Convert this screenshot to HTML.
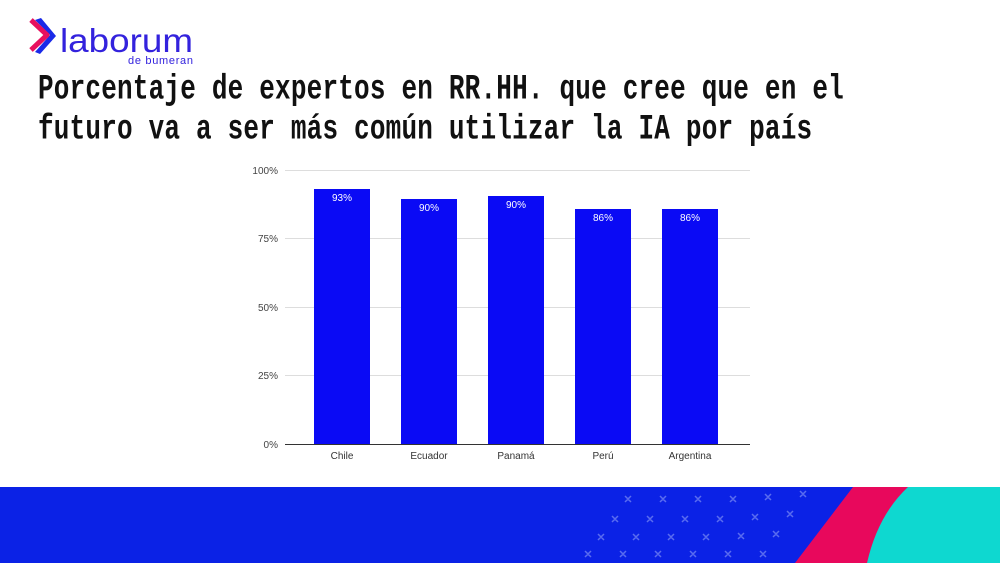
<!DOCTYPE html>
<html><head><meta charset="utf-8"><style>
body{margin:0;width:1000px;height:563px;background:#fff;position:relative;overflow:hidden;font-family:"Liberation Sans",sans-serif}
.t{position:absolute;left:38px;font-family:"Liberation Mono",monospace;font-weight:bold;font-size:26px;letter-spacing:0.2px;color:#111;transform:scaleY(1.35);transform-origin:left top;white-space:nowrap}
</style></head><body>
<svg width="1000" height="563" style="position:absolute;left:0;top:0">
<path d="M35 20 L50 35 L35 52 L40 54 L56 36 L41 18Z" fill="#1a2ae8"/>
<path d="M31 20 L47 35 L31 50" stroke="#e8105e" stroke-width="5" fill="none" stroke-linejoin="round"/>
<text x="60" y="52" font-family="Liberation Sans" font-size="33" fill="#3322dd" textLength="133" lengthAdjust="spacingAndGlyphs">laborum</text>
<text x="128" y="64" font-family="Liberation Sans" font-size="11" fill="#3322dd" textLength="65">de bumeran</text>
<g stroke="#ddd" stroke-width="1">
<line x1="285" x2="750" y1="170.5" y2="170.5"/><line x1="285" x2="750" y1="238.5" y2="238.5"/>
<line x1="285" x2="750" y1="307.5" y2="307.5"/><line x1="285" x2="750" y1="375.5" y2="375.5"/>
</g>
<line x1="285" x2="750" y1="444.5" y2="444.5" stroke="#333"/>
<g font-size="10" fill="#444" text-anchor="end">
<text x="278" y="174">100%</text><text x="278" y="242">75%</text><text x="278" y="311">50%</text><text x="278" y="379">25%</text><text x="278" y="448">0%</text>
</g>
<g fill="#0a0af5">
<rect x="314" y="189" width="56" height="255"/><rect x="401" y="199" width="56" height="245"/>
<rect x="488" y="196" width="56" height="248"/><rect x="575" y="209" width="56" height="235"/>
<rect x="662" y="209" width="56" height="235"/>
</g>
<g font-size="10" fill="#fff" text-anchor="middle">
<text x="342" y="201">93%</text><text x="429" y="211">90%</text><text x="516" y="208">90%</text><text x="603" y="221">86%</text><text x="690" y="221">86%</text>
</g>
<g font-size="10" fill="#333" text-anchor="middle">
<text x="342" y="459">Chile</text><text x="429" y="459">Ecuador</text><text x="516" y="459">Panamá</text><text x="603" y="459">Perú</text><text x="690" y="459">Argentina</text>
</g>
<rect x="0" y="487" width="1000" height="76" fill="#0b22e6"/>
<path d="M853 487 L1000 487 L1000 563 L795 563 Z" fill="#e8085c"/>
<path d="M908 487 L1000 487 L1000 563 L867 563 Q878 515 908 487Z" fill="#0ed8d0"/>
<g stroke="#5a6cf0" stroke-width="1.5">
<path d="M625 496l6 6m0-6l-6 6M660 496l6 6m0-6l-6 6M695 496l6 6m0-6l-6 6M730 496l6 6m0-6l-6 6M765 494l6 6m0-6l-6 6M800 491l6 6m0-6l-6 6
M612 516l6 6m0-6l-6 6M647 516l6 6m0-6l-6 6M682 516l6 6m0-6l-6 6M717 516l6 6m0-6l-6 6M752 514l6 6m0-6l-6 6M787 511l6 6m0-6l-6 6
M598 534l6 6m0-6l-6 6M633 534l6 6m0-6l-6 6M668 534l6 6m0-6l-6 6M703 534l6 6m0-6l-6 6M738 533l6 6m0-6l-6 6M773 531l6 6m0-6l-6 6
M585 551l6 6m0-6l-6 6M620 551l6 6m0-6l-6 6M655 551l6 6m0-6l-6 6M690 551l6 6m0-6l-6 6M725 551l6 6m0-6l-6 6M760 551l6 6m0-6l-6 6"/>
</g>
</svg>
<div class="t" style="top:69px">Porcentaje de expertos en RR.HH. que cree que en el</div>
<div class="t" style="top:109px">futuro va a ser más común utilizar la IA por país</div>
</body></html>
